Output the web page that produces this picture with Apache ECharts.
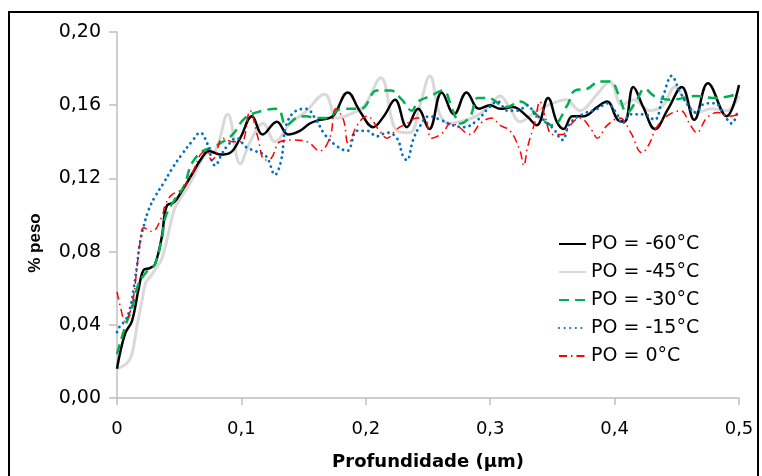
<!DOCTYPE html>
<html>
<head>
<meta charset="utf-8">
<script src="https://cdn.jsdelivr.net/npm/echarts@6/dist/echarts.min.js"></script>
<style>html,body{margin:0;padding:0;background:#fff}#c{width:762px;height:476px}</style>
</head>
<body>
<div id="c"></div>
<script>
const seriesNames = ['PO = -60°C', 'PO = -45°C', 'PO = -30°C', 'PO = -15°C', 'PO = 0°C'];
const xTicks = [0, 0.1, 0.2, 0.3, 0.4, 0.5];
const yTicks = [0, 0.04, 0.08, 0.12, 0.16, 0.20];

const po60 = [[0,0.016],[0.0064,0.035],[0.012,0.042],[0.0175,0.060],[0.0215,0.070],[0.0265,0.071],[0.0305,0.073],[0.036,0.088],[0.040,0.105],[0.046,0.107],[0.052,0.113],[0.060,0.122],[0.068,0.131],[0.074,0.135],[0.083,0.133],[0.091,0.134],[0.099,0.142],[0.1085,0.154],[0.117,0.144],[0.1285,0.151],[0.1375,0.144],[0.147,0.146],[0.155,0.150],[0.163,0.152],[0.1735,0.154],[0.1855,0.167],[0.195,0.157],[0.206,0.148],[0.2145,0.154],[0.2235,0.163],[0.233,0.148],[0.242,0.158],[0.251,0.147],[0.261,0.167],[0.271,0.155],[0.281,0.167],[0.291,0.158],[0.300,0.160],[0.308,0.158],[0.318,0.159],[0.3295,0.154],[0.3375,0.149],[0.3465,0.164],[0.3535,0.151],[0.359,0.147],[0.366,0.154],[0.3755,0.154],[0.386,0.159],[0.394,0.162],[0.4025,0.152],[0.408,0.151],[0.415,0.170],[0.423,0.159],[0.4325,0.147],[0.443,0.158],[0.454,0.170],[0.464,0.152],[0.475,0.172],[0.490,0.154],[0.500,0.171]];
const po45 = [[0,0.016],[0.008,0.019],[0.012,0.024],[0.016,0.039],[0.020,0.053],[0.023,0.063],[0.0265,0.066],[0.0305,0.070],[0.036,0.076],[0.042,0.092],[0.046,0.103],[0.051,0.109],[0.060,0.119],[0.071,0.133],[0.079,0.135],[0.089,0.155],[0.099,0.128],[0.107,0.140],[0.1175,0.150],[0.127,0.140],[0.139,0.150],[0.151,0.156],[0.167,0.166],[0.177,0.153],[0.187,0.155],[0.199,0.160],[0.212,0.175],[0.225,0.146],[0.2355,0.145],[0.2435,0.160],[0.2515,0.176],[0.2595,0.155],[0.2675,0.150],[0.2755,0.151],[0.289,0.154],[0.300,0.160],[0.308,0.165],[0.316,0.158],[0.324,0.151],[0.3375,0.157],[0.350,0.161],[0.361,0.163],[0.372,0.157],[0.386,0.166],[0.396,0.173],[0.406,0.160],[0.415,0.163],[0.4285,0.157],[0.439,0.160],[0.4485,0.170],[0.4565,0.163],[0.466,0.156],[0.478,0.158],[0.490,0.157],[0.500,0.165]];
const po30 = [[0,0.024],[0.0065,0.039],[0.012,0.049],[0.0175,0.063],[0.0215,0.067],[0.0265,0.071],[0.0305,0.073],[0.036,0.087],[0.039,0.099],[0.046,0.108],[0.054,0.116],[0.060,0.128],[0.069,0.135],[0.077,0.137],[0.085,0.140],[0.093,0.144],[0.103,0.153],[0.117,0.157],[0.129,0.158],[0.136,0.149],[0.144,0.153],[0.152,0.154],[0.160,0.153],[0.169,0.153],[0.180,0.158],[0.196,0.158],[0.209,0.168],[0.220,0.168],[0.229,0.163],[0.237,0.157],[0.242,0.162],[0.252,0.165],[0.262,0.168],[0.270,0.157],[0.276,0.150],[0.284,0.154],[0.290,0.164],[0.298,0.164],[0.313,0.159],[0.324,0.162],[0.334,0.157],[0.340,0.153],[0.350,0.149],[0.362,0.160],[0.368,0.168],[0.378,0.169],[0.388,0.173],[0.397,0.173],[0.403,0.166],[0.410,0.156],[0.418,0.163],[0.424,0.169],[0.432,0.165],[0.445,0.163],[0.466,0.165],[0.479,0.164],[0.493,0.165],[0.500,0.167]];
const po15 = [[0,0.036],[0.003,0.040],[0.0065,0.042],[0.0105,0.049],[0.0135,0.060],[0.016,0.072],[0.0185,0.085],[0.0215,0.094],[0.0255,0.103],[0.0305,0.110],[0.037,0.117],[0.044,0.125],[0.052,0.133],[0.060,0.140],[0.067,0.145],[0.072,0.140],[0.079,0.127],[0.084,0.133],[0.089,0.138],[0.096,0.142],[0.104,0.137],[0.111,0.135],[0.120,0.132],[0.127,0.122],[0.132,0.130],[0.136,0.149],[0.144,0.157],[0.152,0.158],[0.160,0.152],[0.167,0.144],[0.176,0.138],[0.185,0.135],[0.193,0.146],[0.201,0.146],[0.209,0.143],[0.217,0.145],[0.225,0.142],[0.230,0.132],[0.233,0.130],[0.238,0.141],[0.243,0.148],[0.251,0.154],[0.260,0.152],[0.270,0.149],[0.279,0.148],[0.290,0.152],[0.298,0.158],[0.306,0.162],[0.314,0.157],[0.322,0.157],[0.330,0.160],[0.336,0.155],[0.343,0.152],[0.351,0.147],[0.358,0.141],[0.364,0.150],[0.374,0.155],[0.386,0.158],[0.394,0.161],[0.402,0.155],[0.406,0.150],[0.413,0.155],[0.424,0.155],[0.432,0.152],[0.439,0.165],[0.446,0.176],[0.452,0.168],[0.459,0.160],[0.465,0.156],[0.473,0.161],[0.481,0.161],[0.487,0.156],[0.494,0.150],[0.499,0.157]];
const po0 = [[0,0.058],[0.003,0.049],[0.0065,0.042],[0.0105,0.047],[0.0135,0.056],[0.016,0.071],[0.0185,0.085],[0.0215,0.093],[0.028,0.091],[0.036,0.099],[0.039,0.106],[0.044,0.111],[0.052,0.114],[0.060,0.122],[0.067,0.133],[0.072,0.135],[0.076,0.130],[0.079,0.132],[0.085,0.142],[0.093,0.140],[0.100,0.140],[0.107,0.157],[0.113,0.143],[0.119,0.130],[0.124,0.131],[0.131,0.140],[0.142,0.141],[0.153,0.140],[0.163,0.135],[0.171,0.142],[0.176,0.158],[0.182,0.152],[0.186,0.139],[0.193,0.149],[0.201,0.154],[0.211,0.146],[0.217,0.142],[0.225,0.147],[0.233,0.150],[0.241,0.153],[0.247,0.153],[0.253,0.142],[0.262,0.145],[0.268,0.150],[0.273,0.149],[0.284,0.144],[0.292,0.150],[0.301,0.153],[0.308,0.149],[0.316,0.146],[0.324,0.135],[0.327,0.127],[0.330,0.137],[0.336,0.151],[0.340,0.162],[0.344,0.154],[0.350,0.144],[0.358,0.144],[0.364,0.149],[0.372,0.153],[0.382,0.146],[0.386,0.142],[0.394,0.149],[0.404,0.153],[0.413,0.145],[0.422,0.134],[0.428,0.139],[0.433,0.147],[0.442,0.154],[0.453,0.157],[0.461,0.149],[0.466,0.145],[0.474,0.153],[0.483,0.156],[0.493,0.154],[0.500,0.155]];

const FONT = 'DejaVu Sans';
const chart = echarts.init(document.getElementById('c'), null, {renderer: 'canvas'});

function mk(name, data, color, width, type, z, cap) {
  return {
    name: name, type: 'line', data: data, smooth: 0.4, symbol: 'none', showSymbol: false,
    z: z, animation: false,
    lineStyle: {color: color, width: width, type: type, cap: cap || 'butt'},
    itemStyle: {color: color}
  };
}

chart.setOption({
  animation: false,
  backgroundColor: '#ffffff',
  grid: {left: 117, top: 32, width: 622, height: 373, containLabel: false},
  xAxis: {
    type: 'value', min: xTicks[0], max: xTicks[xTicks.length - 1], interval: 0.1,
    axisLine: {show: true, lineStyle: {color: '#bfbfbf', width: 1.5}},
    axisTick: {show: true, inside: false, length: 7, lineStyle: {color: '#bfbfbf', width: 1.5}},
    splitLine: {show: false},
    axisLabel: {margin: 22, color: '#000', fontFamily: FONT, fontSize: 18,
      formatter: v => v === 0 ? '0' : v.toFixed(1).replace('.', ',')},
    name: 'Profundidade (µm)', nameLocation: 'middle', nameGap: 55,
    nameTextStyle: {color: '#000', fontFamily: FONT, fontWeight: 'bold', fontSize: 18}
  },
  yAxis: {
    type: 'value', min: yTicks[0], max: yTicks[yTicks.length - 1], interval: 0.04,
    axisLine: {show: true, lineStyle: {color: '#bfbfbf', width: 1.5}},
    axisTick: {show: true, inside: false, length: 8, lineStyle: {color: '#bfbfbf', width: 1.5}},
    splitLine: {show: false},
    axisLabel: {margin: 16, color: '#000', fontFamily: FONT, fontSize: 19,
      formatter: v => v.toFixed(2).replace('.', ',')}
  },
  legend: {
    orient: 'vertical', left: 558, top: 234, padding: 0, itemWidth: 27, itemHeight: 12, itemGap: 8,
    itemStyle: {opacity: 0},
    textStyle: {color: '#000', fontFamily: FONT, fontSize: 19, lineHeight: 20},
    data: seriesNames
  },
  graphic: [
    {type: 'rect', shape: {x: 9, y: 12, width: 749, height: 480}, style: {fill: 'none', stroke: '#000', lineWidth: 2}, silent: true, z: 100},
    {type: 'text', x: 35, y: 243, rotation: Math.PI / 2,
     style: {text: '% peso', fill: '#000', font: 'bold 17px "Liberation Sans"', align: 'center', verticalAlign: 'middle'}}
  ],
  series: [
    mk(seriesNames[0], po60, '#000000', 2.5, 'solid', 3),
    mk(seriesNames[1], po45, '#d9d9d9', 3, 'solid', 2),
    mk(seriesNames[2], po30, '#00b050', 2.5, [10, 6], 4),
    mk(seriesNames[3], po15, '#0070c0', 2.8, [0.1, 5.5], 5, 'round'),
    mk(seriesNames[4], po0, '#ff0000', 1.5, [8, 4, 1.5, 4], 6)
  ]
});
</script>
</body>
</html>
